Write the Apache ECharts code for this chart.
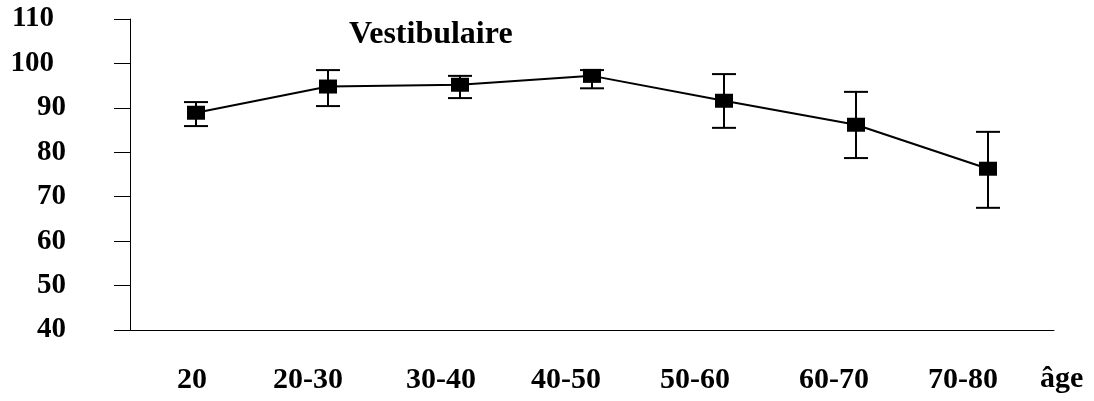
<!DOCTYPE html>
<html lang="fr">
<head>
    <meta charset="UTF-8">
    <title>Vestibulaire</title>
    <style>
        html, body { margin: 0; padding: 0; background: #fff; }
        #chart { width: 1094px; height: 401px; }
    </style>
</head>
<body>
<div id="chart"></div>
<script src="https://cdn.jsdelivr.net/npm/echarts@6/dist/echarts.min.js"></script>
<script>
    // données
    var age_list = ['20', '20-30', '30-40', '40-50', '50-60', '60-70', '70-80'];
    var score_list = [88.9, 94.8, 95.2, 97.2, 91.6, 86.2, 76.3];
    var high_list = [91.3, 98.5, 97.2, 98.5, 97.6, 93.6, 84.6];
    var low_list = [85.9, 90.4, 92.2, 94.4, 85.5, 78.7, 67.5];

    var font = '"Liberation Serif", "DejaVu Serif", serif';

    // décalage à gauche des étiquettes (comme dans la figure d'origine)
    var label_shift = [4, 20, 19, 26, 29, 22, 25];
    var x_rich = {};
    for (var k = 0; k < label_shift.length; k++) {
        x_rich['l' + k] = { padding: [0, label_shift[k] * 2, 0, 0] };
    }

    var err_data = [];
    for (var i = 0; i < age_list.length; i++) {
        err_data.push([i, low_list[i], high_list[i]]);
    }

    var myChart = echarts.init(document.getElementById('chart'));

    var option = {
        animation: false,
        title: {
            text: 'Vestibulaire',
            left: 344,
            top: 14,
            textStyle: { fontFamily: font, fontWeight: 'bold', fontSize: 32, color: '#000' }
        },
        grid: { left: 130, right: 40, top: 19, bottom: 71 },
        xAxis: {
            type: 'category',
            data: age_list,
            boundaryGap: true,
            name: 'âge',
            nameLocation: 'end',
            nameGap: -14,
            nameTextStyle: {
                fontFamily: font, fontWeight: 'bold', fontSize: 30, color: '#000',
                align: 'left', verticalAlign: 'top', padding: [34, 0, 0, 0]
            },
            axisLine: { lineStyle: { color: '#000', width: 1 } },
            axisTick: { alignWithLabel: false, length: 7, lineStyle: { color: '#000' } },
            axisLabel: {
                interval: 0,
                hideOverlap: false,
                margin: 35,
                fontFamily: font, fontWeight: 'bold', fontSize: 30, color: '#000',
                formatter: function (value, index) {
                    return '{l' + index + '|' + value + '}';
                },
                rich: x_rich
            },
            splitLine: { show: false }
        },
        yAxis: {
            type: 'value',
            min: 40,
            max: 110,
            interval: 10,
            axisLine: { show: true, lineStyle: { color: '#000', width: 1 } },
            axisTick: { show: true, length: 16, lineStyle: { color: '#000' } },
            axisLabel: {
                margin: 64,
                fontFamily: font, fontWeight: 'bold', fontSize: 29, color: '#000',
                formatter: function (value) {
                    return value >= 100 ? '{big|' + value + '}' : '' + value;
                },
                rich: { big: { padding: [0, 12, 0, 0] } }
            },
            splitLine: { show: false }
        },
        series: [
            {
                type: 'custom',
                data: err_data,
                z: 1,
                renderItem: function (params, api) {
                    var x = api.value(0);
                    var lo = api.coord([x, api.value(1)]);
                    var hi = api.coord([x, api.value(2)]);
                    var w = 12;
                    var st = { stroke: '#000', lineWidth: 2 };
                    return {
                        type: 'group',
                        children: [
                            { type: 'line', shape: { x1: hi[0], y1: hi[1], x2: lo[0], y2: lo[1] }, style: st },
                            { type: 'line', shape: { x1: hi[0] - w, y1: hi[1], x2: hi[0] + w, y2: hi[1] }, style: st },
                            { type: 'line', shape: { x1: lo[0] - w, y1: lo[1], x2: lo[0] + w, y2: lo[1] }, style: st }
                        ]
                    };
                }
            },
            {
                type: 'line',
                data: score_list,
                z: 2,
                symbol: 'rect',
                symbolSize: [18, 14],
                itemStyle: { color: '#000' },
                lineStyle: { color: '#000', width: 2 }
            }
        ]
    };

    myChart.setOption(option);
</script>
</body>
</html>
